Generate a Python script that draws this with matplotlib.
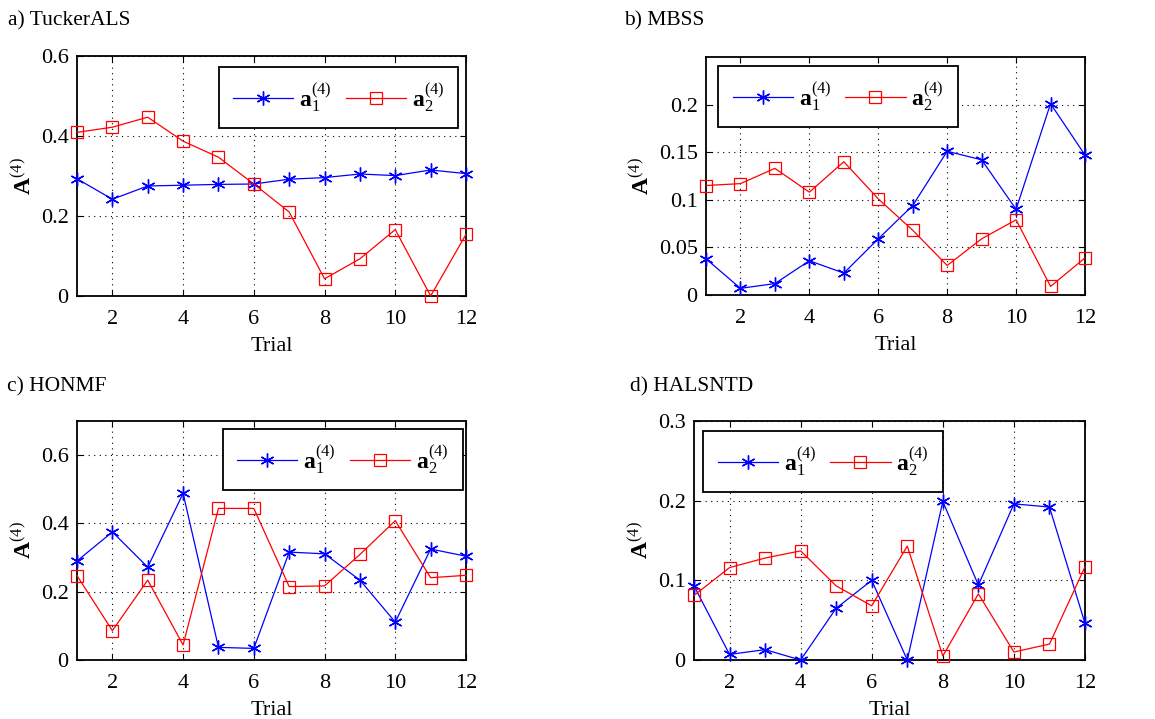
import matplotlib
matplotlib.use("Agg")
import matplotlib.pyplot as plt
import numpy as np

plt.rcParams['font.family'] = ['Liberation Serif', 'DejaVu Serif']
plt.rcParams['mathtext.fontset'] = 'custom'
plt.rcParams['mathtext.rm'] = 'Liberation Serif'
plt.rcParams['mathtext.it'] = 'Liberation Serif:italic'
plt.rcParams['mathtext.bf'] = 'Liberation Serif:bold'

trials = list(range(1, 13))

titles = ["a) TuckerALS", "b) MBSS", "c) HONMF", "d) HALSNTD"]

tucker_a1 = [0.293, 0.242, 0.275, 0.277, 0.279, 0.280, 0.292, 0.296, 0.305, 0.301, 0.315, 0.306]
tucker_a2 = [0.409, 0.422, 0.447, 0.387, 0.347, 0.280, 0.210, 0.043, 0.093, 0.166, 0.000, 0.154]

mbss_a1 = [0.038, 0.007, 0.012, 0.036, 0.023, 0.059, 0.094, 0.151, 0.142, 0.090, 0.201, 0.147]
mbss_a2 = [0.115, 0.117, 0.133, 0.108, 0.140, 0.101, 0.068, 0.031, 0.059, 0.079, 0.009, 0.039]

honmf_a1 = [0.290, 0.375, 0.272, 0.488, 0.037, 0.034, 0.316, 0.311, 0.234, 0.111, 0.325, 0.304]
honmf_a2 = [0.247, 0.086, 0.234, 0.044, 0.444, 0.444, 0.215, 0.217, 0.309, 0.408, 0.241, 0.248]

halsntd_a1 = [0.093, 0.007, 0.013, 0.000, 0.065, 0.100, 0.000, 0.199, 0.094, 0.196, 0.192, 0.046]
halsntd_a2 = [0.081, 0.116, 0.128, 0.137, 0.093, 0.068, 0.143, 0.005, 0.083, 0.010, 0.020, 0.117]

series = [(tucker_a1, tucker_a2), (mbss_a1, mbss_a2), (honmf_a1, honmf_a2), (halsntd_a1, halsntd_a2)]
ylims = [(0, 0.6), (0, 0.25), (0, 0.7), (0, 0.3)]
yticks = [[0, 0.2, 0.4, 0.6], [0, 0.05, 0.1, 0.15, 0.2], [0, 0.2, 0.4, 0.6], [0, 0.1, 0.2, 0.3]]
yticklabels = [["0", "0.2", "0.4", "0.6"], ["0", "0.05", "0.1", "0.15", "0.2"],
               ["0", "0.2", "0.4", "0.6"], ["0", "0.1", "0.2", "0.3"]]
xticks = [2, 4, 6, 8, 10, 12]

W, H = 1155, 719
fig = plt.figure(figsize=(W / 100, H / 100), dpi=100)

# axes boxes in pixels: left, top, right, bottom
boxes = [(77, 56, 466, 296), (706, 57, 1085, 295), (77, 421, 466, 660), (694, 421, 1085, 660)]
# legend boxes in axes fraction: x0, y0, x1, y1
legboxes = [(0.373, 0.70, 0.972, 0.954), (0.038, 0.706, 0.66, 0.963),
            (0.386, 0.714, 0.98, 0.966), (0.032, 0.703, 0.629, 0.958)]
title_pos = [(8, 25), (624, 25), (7, 391), (630, 391)]
ylabel_x = [36, 654, 36, 653]

blue_marker = (6, 2, 0)

for i in range(4):
    l, t, r, b = boxes[i]
    ax = fig.add_axes([l / W, 1 - b / H, (r - l) / W, (b - t) / H])
    a1, a2 = series[i]
    h1, = ax.plot(trials, a1, color='blue', lw=0.9, marker=blue_marker, ms=10, mew=1.0,
                  label=r'$\mathbf{a}_1^{(4)}$', clip_on=False, zorder=3)
    h2, = ax.plot(trials, a2, color='red', lw=0.9, marker='s', ms=9, mfc='none', mew=0.9,
                  label=r'$\mathbf{a}_2^{(4)}$', clip_on=False, zorder=3)
    ax.set_xlim(1, 12)
    ax.set_ylim(*ylims[i])
    ax.set_xticks(xticks)
    ax.set_xticklabels([str(x) for x in xticks])
    ax.set_yticks(yticks[i])
    ax.set_yticklabels(yticklabels[i])
    ax.tick_params(axis='both', direction='in', length=4, width=0.8, top=True, right=True, labelsize=16)
    ax.tick_params(axis='x', pad=10)
    ax.tick_params(axis='y', pad=6)
    ax.grid(True, color='black', linestyle=(0, (1, 4)), linewidth=0.8)
    for sp in ax.spines.values():
        sp.set_linewidth(1.3)
    ax.set_xlabel('Trial', fontsize=16, labelpad=6)
    ax.set_ylabel(r'$\mathbf{A}^{(4)}$', fontsize=17)
    ax.yaxis.set_label_coords((ylabel_x[i] - l) / (r - l), 0.5)
    x0, y0, x1, y1 = legboxes[i]
    leg = ax.legend(handles=[h1, h2], loc='center', bbox_to_anchor=(x0, y0, x1 - x0, y1 - y0),
                    ncol=2, fontsize=17, frameon=True, fancybox=False, shadow=False,
                    handlelength=2.55, handletextpad=0.25, columnspacing=0.6,
                    borderpad=0.6, borderaxespad=0, framealpha=1)
    leg.get_frame().set_edgecolor('black')
    leg.get_frame().set_linewidth(1.3)
    tx, ty = title_pos[i]
    fig.text(tx / W, 1 - ty / H, titles[i], fontsize=15.5, ha='left', va='baseline')

fig.savefig('out.png', dpi=100)
